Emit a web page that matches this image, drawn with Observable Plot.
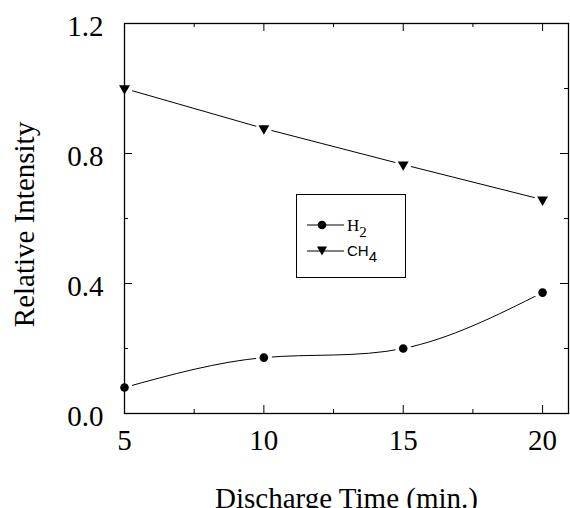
<!DOCTYPE html>
<html><head><meta charset="utf-8">
<script src="https://cdn.jsdelivr.net/npm/d3@7"></script>
<script src="https://cdn.jsdelivr.net/npm/@observablehq/plot@0.6"></script>
<style>
body{margin:0;background:#fff}
#c{position:relative;width:570px;height:508px;overflow:hidden}
#legend{position:absolute;left:296px;top:194px}
</style>
</head><body><div id="c"></div>
<script>
const times = [5, 10, 15, 20];
const h2 = [0.08, 0.172, 0.20, 0.372];
const ch4 = [1.0, 0.877, 0.766, 0.658];
const xTicks = [5, 10, 15, 20];
const xMinor = [7.5, 12.5, 17.5];
const yTicks = [0, 0.4, 0.8, 1.2];
const yMinor = [0.2, 0.6, 1.0];
const seriesNames = ["H2", "CH4"];

const h2Data = times.map((t, i) => ({t, v: h2[i]}));
const ch4Data = times.map((t, i) => ({t, v: ch4[i]}));

const serif = "Liberation Serif, Times New Roman, serif";
const W = 570, H = 508, mL = 124, mR = 2, mT = 23, mB = 95;
const pw = W - mL - mR, ph = H - mT - mB;

const chart = Plot.plot({
  width: W, height: H,
  marginLeft: mL, marginRight: mR, marginTop: mT, marginBottom: mB,
  style: {fontFamily: serif, background: "#fff"},
  x: {domain: [5, 20.93]},
  y: {domain: [0, 1.2]},
  marks: [
    Plot.line(h2Data, {x: "t", y: "v", curve: "natural", stroke: "#000", strokeWidth: 1}),
    Plot.line(ch4Data, {x: "t", y: "v", stroke: "#000", strokeWidth: 1}),
    Plot.dot(h2Data, {x: "t", y: "v", r: 8, fill: "#fff", stroke: "none"}),
    Plot.dot(ch4Data, {x: "t", y: "v", r: 8, fill: "#fff", stroke: "none"}),
    Plot.frame({stroke: "#000", strokeWidth: 1.3}),
    // inward ticks
    Plot.tickX(xTicks, {x: d => d, insetTop: ph - 8, stroke: "#000"}),
    Plot.tickX(xTicks, {x: d => d, insetBottom: ph - 8, stroke: "#000"}),
    Plot.tickX(xMinor, {x: d => d, insetTop: ph - 4, stroke: "#000"}),
    Plot.tickX(xMinor, {x: d => d, insetBottom: ph - 4, stroke: "#000"}),
    Plot.tickY(yTicks, {y: d => d, insetRight: pw - 8, stroke: "#000"}),
    Plot.tickY(yTicks, {y: d => d, insetLeft: pw - 8, stroke: "#000"}),
    Plot.tickY(yMinor, {y: d => d, insetRight: pw - 4, stroke: "#000"}),
    Plot.tickY(yMinor, {y: d => d, insetLeft: pw - 4, stroke: "#000"}),
    Plot.axisX({ticks: xTicks, tickSize: 0, tickPadding: 16, fontSize: 29, label: null, tickFormat: d => String(d)}),
    Plot.axisY({ticks: yTicks, tickSize: 0, tickPadding: 21, fontSize: 29, dy: 3, label: null, tickFormat: d => d.toFixed(1)}),
    Plot.dot(h2Data, {x: "t", y: "v", r: 4.3, fill: "#000", symbol: "circle"}),
    Plot.dot(ch4Data, {x: "t", y: "v", r: 5.2, fill: "#000", symbol: "triangle2", rotate: 180}),
    Plot.text(["Discharge Time (min.)"], {frameAnchor: "bottom", lineAnchor: "top", dy: 74, fontSize: 29, fill: "#000"}),
    Plot.text(["Relative Intensity"], {frameAnchor: "left", textAnchor: "middle", lineAnchor: "bottom", rotate: -90, dx: -91, dy: 6, fontSize: 29, fill: "#000"})
  ]
});
document.getElementById("c").appendChild(chart);

// Legend
const lg = d3.select("#c").append("svg").attr("id", "legend").attr("width", 111).attr("height", 85);
lg.append("rect").attr("x", 0.5).attr("y", 0.5).attr("width", 109).attr("height", 83).attr("fill", "#fff").attr("stroke", "#000").attr("stroke-width", 1);
const rows = [{name: seriesNames[0], y: 31, sym: "circle"}, {name: seriesNames[1], y: 57, sym: "tri"}];
rows.forEach(r => {
  lg.append("line").attr("x1", 11).attr("x2", 48).attr("y1", r.y).attr("y2", r.y).attr("stroke", "#000");
  if (r.sym === "circle") lg.append("circle").attr("cx", 26).attr("cy", r.y).attr("r", 4.3).attr("fill", "#000");
  else lg.append("path").attr("d", `M${26-5},${r.y-4.5}L${26+5},${r.y-4.5}L26,${r.y+4.5}Z`).attr("fill", "#000");
});
const t1 = lg.append("text").attr("x", 51).attr("y", 37).attr("font-family", serif).attr("font-size", 17);
t1.append("tspan").text("H");
t1.append("tspan").attr("dy", 6).attr("font-size", 15).text("2");
const t2 = lg.append("text").attr("x", 51).attr("y", 62).attr("font-family", "Liberation Sans, Arial, sans-serif").attr("font-size", 15);
t2.append("tspan").text("CH");
t2.append("tspan").attr("dy", 6).attr("font-size", 15).text("4");
</script>
</body></html>
